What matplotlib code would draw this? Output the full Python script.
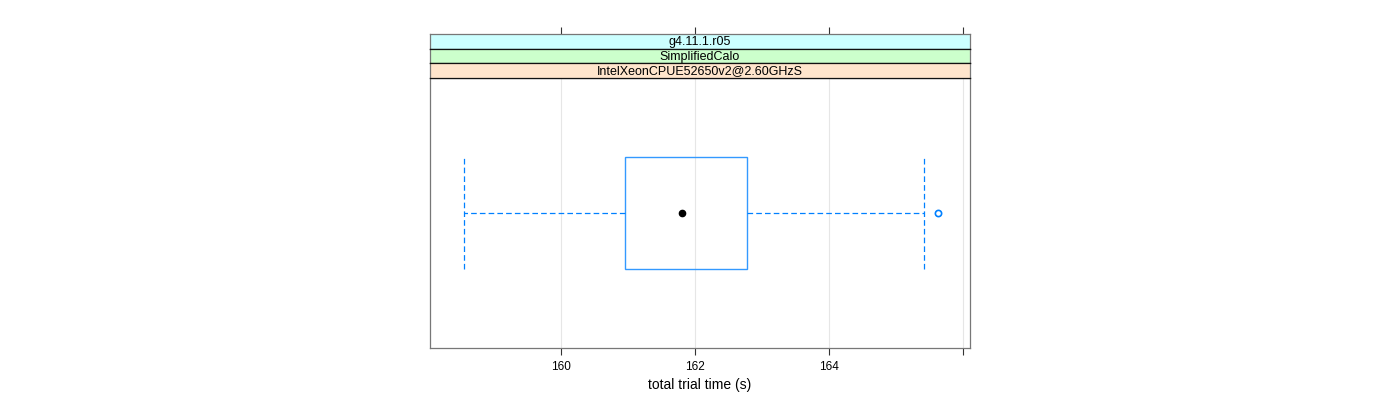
import matplotlib
matplotlib.use('Agg')
import matplotlib.pyplot as plt

# strip labels, top to bottom
strip_labels = ['g4.11.1.r05', 'SimplifiedCalo', 'IntelXeonCPUE52650v2@2.60GHzS']
strip_colors = ['#ccffff', '#ccffcc', '#ffe5cc']

# box stats
whis_lo = 158.55
q1 = 160.96
median = 161.80
q3 = 162.77
whis_hi = 165.42
outliers = [165.62]

xticks = [160, 162, 164, 166]
xticklabels = ['160', '162', '164', '']
xlim = (158.05, 166.1)

plt.rcParams['font.family'] = ['Liberation Sans', 'DejaVu Sans']
blue = '#0080ff'
box_blue = '#3399ff'
frame = '#777777'

W, H = 1400, 400
fig = plt.figure(figsize=(14, 4), dpi=100)

x0, x1 = 430, 970
y_top, y_panel, y_bot = 34, 78, 348
ax = fig.add_axes([x0 / W, 1 - y_bot / H, (x1 - x0) / W, (y_bot - y_panel) / H])

stats = [dict(whislo=whis_lo, q1=q1, med=median, q3=q3, whishi=whis_hi, fliers=outliers)]
ax.bxp(stats, positions=[1], widths=0.415, vert=False, showfliers=True, patch_artist=True,
       boxprops=dict(facecolor='none', edgecolor=box_blue, linewidth=1.0),
       whiskerprops=dict(color=blue, linestyle=(0, (4.5, 2.5)), linewidth=0.9),
       capprops=dict(color=blue, linestyle=(0, (4.5, 2.5)), linewidth=0.9),
       capwidths=0.415,
       medianprops=dict(linestyle='none'),
       flierprops=dict(marker='o', markersize=4.5, markerfacecolor='none',
                       markeredgecolor=blue, markeredgewidth=1.2))
ax.plot([median], [1], 'o', color='black', markersize=4.5)

ax.set_xlim(*xlim)
ax.set_ylim(0.5, 1.5)
for t in xticks:
    ax.axvline(t, color='#e6e6e6', linewidth=0.8, zorder=0)
ax.set_yticks([])
ax.set_xticks(xticks)
ax.set_xticklabels(xticklabels, fontsize=8.5)
ax.tick_params(axis='x', direction='out', length=5, width=0.8, color='#333333', pad=4)
for s in ax.spines.values():
    s.set_color(frame)
    s.set_linewidth(0.9)
ax.set_xlabel('total trial time (s)', fontsize=10, labelpad=4)

# strips
strip_h = (y_panel - y_top) / len(strip_labels)
for i, (lab, col) in enumerate(zip(strip_labels, strip_colors)):
    top = y_top + i * strip_h
    sax = fig.add_axes([x0 / W, 1 - (top + strip_h) / H, (x1 - x0) / W, strip_h / H])
    sax.set_facecolor(col)
    sax.set_xlim(*xlim)
    sax.set_yticks([])
    sax.text(0.5, 0.45, lab, transform=sax.transAxes, ha='center', va='center', fontsize=9)
    for name, s in sax.spines.items():
        s.set_linewidth(0.9)
        s.set_color(frame if name in ('left', 'right') else '#111111')
    if i == 0:
        sax.spines['top'].set_color(frame)
        sax.set_xticks(xticks)
        sax.tick_params(axis='x', bottom=False, top=True, labelbottom=False, labeltop=False,
                        direction='out', length=5, width=0.8, color='#333333')
    else:
        sax.set_xticks([])

fig.savefig('out.png', dpi=100)
